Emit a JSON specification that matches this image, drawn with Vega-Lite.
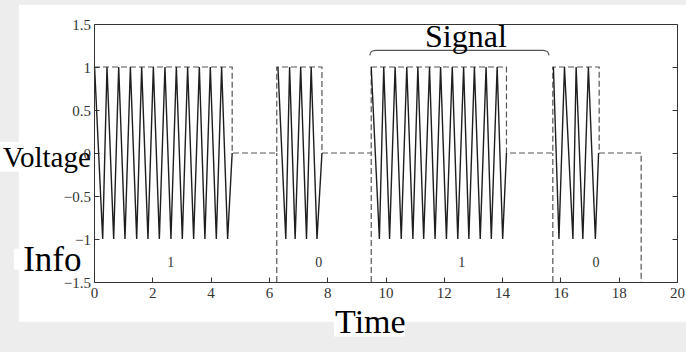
{
  "$schema": "https://vega.github.io/schema/vega-lite/v6.json",
  "width": 583,
  "height": 258,
  "autosize": {"type": "none"},
  "padding": {"left": 94, "top": 24, "right": 9, "bottom": 70},
  "background": "#ededed",
  "config": {
    "view": {"stroke": null},
    "axis": {
      "domainColor": "#333333",
      "tickColor": "#333333",
      "labelColor": "#333333",
      "labelFont": "Liberation Serif",
      "labelFontSize": 15,
      "tickSize": -5,
      "grid": false,
      "title": null
    },
    "text": {"font": "Liberation Serif"}
  },
  "datasets": {
    "signal": [
      {"burst": 1, "t": 0.02, "v": 1}, {"burst": 1, "t": 0.298, "v": -1}, {"burst": 1, "t": 0.446, "v": 1}, {"burst": 1, "t": 0.675, "v": -1},
      {"burst": 1, "t": 0.847, "v": 1}, {"burst": 1, "t": 1.063, "v": -1}, {"burst": 1, "t": 1.248, "v": 1}, {"burst": 1, "t": 1.464, "v": -1},
      {"burst": 1, "t": 1.635, "v": 1}, {"burst": 1, "t": 1.851, "v": -1}, {"burst": 1, "t": 2.036, "v": 1}, {"burst": 1, "t": 2.242, "v": -1},
      {"burst": 1, "t": 2.434, "v": 1}, {"burst": 1, "t": 2.64, "v": -1}, {"burst": 1, "t": 2.825, "v": 1}, {"burst": 1, "t": 3.03, "v": -1},
      {"burst": 1, "t": 3.212, "v": 1}, {"burst": 1, "t": 3.418, "v": -1}, {"burst": 1, "t": 3.613, "v": 1}, {"burst": 1, "t": 3.805, "v": -1},
      {"burst": 1, "t": 3.99, "v": 1}, {"burst": 1, "t": 4.196, "v": -1}, {"burst": 1, "t": 4.378, "v": 1}, {"burst": 1, "t": 4.584, "v": -1},
      {"burst": 1, "t": 4.74, "v": 0},
      {"burst": 2, "t": 6.31, "v": 1}, {"burst": 2, "t": 6.58, "v": -1}, {"burst": 2, "t": 6.71, "v": 1}, {"burst": 2, "t": 6.9, "v": -1},
      {"burst": 2, "t": 7.09, "v": 1}, {"burst": 2, "t": 7.29, "v": -1}, {"burst": 2, "t": 7.45, "v": 1}, {"burst": 2, "t": 7.65, "v": -1},
      {"burst": 2, "t": 7.82, "v": 0},
      {"burst": 3, "t": 9.51, "v": 1}, {"burst": 3, "t": 9.79, "v": -1}, {"burst": 3, "t": 9.94, "v": 1}, {"burst": 3, "t": 10.14, "v": -1},
      {"burst": 3, "t": 10.33, "v": 1}, {"burst": 3, "t": 10.54, "v": -1}, {"burst": 3, "t": 10.73, "v": 1}, {"burst": 3, "t": 10.94, "v": -1},
      {"burst": 3, "t": 11.11, "v": 1}, {"burst": 3, "t": 11.31, "v": -1}, {"burst": 3, "t": 11.51, "v": 1}, {"burst": 3, "t": 11.7, "v": -1},
      {"burst": 3, "t": 11.89, "v": 1}, {"burst": 3, "t": 12.09, "v": -1}, {"burst": 3, "t": 12.29, "v": 1}, {"burst": 3, "t": 12.48, "v": -1},
      {"burst": 3, "t": 12.68, "v": 1}, {"burst": 3, "t": 12.86, "v": -1}, {"burst": 3, "t": 13.05, "v": 1}, {"burst": 3, "t": 13.25, "v": -1},
      {"burst": 3, "t": 13.45, "v": 1}, {"burst": 3, "t": 13.63, "v": -1}, {"burst": 3, "t": 13.83, "v": 1}, {"burst": 3, "t": 14.02, "v": -1},
      {"burst": 3, "t": 14.15, "v": 0},
      {"burst": 4, "t": 15.76, "v": 1}, {"burst": 4, "t": 15.95, "v": -1}, {"burst": 4, "t": 16.14, "v": 1}, {"burst": 4, "t": 16.43, "v": -1},
      {"burst": 4, "t": 16.54, "v": 1}, {"burst": 4, "t": 16.77, "v": -1}, {"burst": 4, "t": 16.96, "v": 1}, {"burst": 4, "t": 17.2, "v": -1},
      {"burst": 4, "t": 17.31, "v": 0}
    ],
    "info": [
      {"k": 1, "t": 0, "v": 1}, {"k": 2, "t": 4.74, "v": 1}, {"k": 3, "t": 4.74, "v": 0}, {"k": 4, "t": 6.27, "v": 0},
      {"k": 5, "t": 6.27, "v": 1}, {"k": 6, "t": 7.82, "v": 1}, {"k": 7, "t": 7.82, "v": 0}, {"k": 8, "t": 9.51, "v": 0},
      {"k": 9, "t": 9.51, "v": 1}, {"k": 10, "t": 14.15, "v": 1}, {"k": 11, "t": 14.15, "v": 0}, {"k": 12, "t": 15.74, "v": 0},
      {"k": 13, "t": 15.74, "v": 1}, {"k": 14, "t": 17.33, "v": 1}, {"k": 15, "t": 17.33, "v": 0}, {"k": 16, "t": 18.77, "v": 0},
      {"k": 17, "t": 18.77, "v": -1.5}
    ],
    "bounds": [{"t": 6.27, "lo": -1.5, "hi": 0}, {"t": 9.51, "lo": -1.5, "hi": 0}, {"t": 15.74, "lo": -1.5, "hi": 0}],
    "bits": [
      {"t": 2.63, "v": -1.276, "bit": "1"},
      {"t": 7.71, "v": -1.276, "bit": "0"},
      {"t": 12.62, "v": -1.276, "bit": "1"},
      {"t": 17.22, "v": -1.276, "bit": "0"}
    ],
    "brace": [
      {"t": 9.46, "v": 1.135}, {"t": 9.49, "v": 1.165}, {"t": 9.56, "v": 1.186}, {"t": 9.66, "v": 1.193},
      {"t": 15.41, "v": 1.193}, {"t": 15.51, "v": 1.186}, {"t": 15.58, "v": 1.165}, {"t": 15.61, "v": 1.135}
    ]
  },
  "layer": [
    {
      "data": {"values": [{}]},
      "mark": {"type": "rect", "fill": "white"},
      "encoding": {
        "x": {"datum": -2.58, "type": "quantitative", "scale": {"domain": [0, 20], "nice": false, "zero": false}, "axis": null},
        "x2": {"datum": 20.4},
        "y": {"datum": 1.724, "type": "quantitative", "scale": {"domain": [-1.5, 1.5], "nice": false, "zero": false}, "axis": null},
        "y2": {"datum": -1.962}
      }
    },
    {
      "data": {"values": [{}]},
      "mark": {"type": "rect", "fill": "white"},
      "encoding": {
        "x": {"datum": -3.24, "type": "quantitative", "scale": {"domain": [0, 20], "nice": false, "zero": false}, "axis": null},
        "x2": {"datum": -2.2},
        "y": {"datum": 0.131, "type": "quantitative", "scale": {"domain": [-1.5, 1.5], "nice": false, "zero": false}, "axis": null},
        "y2": {"datum": -0.217}
      }
    },
    {
      "data": {"values": [{}]},
      "mark": {"type": "rect", "fill": "white"},
      "encoding": {
        "x": {"datum": -2.75, "type": "quantitative", "scale": {"domain": [0, 20], "nice": false, "zero": false}, "axis": null},
        "x2": {"datum": -2.3},
        "y": {"datum": -1.113, "type": "quantitative", "scale": {"domain": [-1.5, 1.5], "nice": false, "zero": false}, "axis": null},
        "y2": {"datum": -1.357}
      }
    },
    {
      "data": {"values": [{}]},
      "mark": {"type": "rect", "fill": "white"},
      "encoding": {
        "x": {"datum": 8.23, "type": "quantitative", "scale": {"domain": [0, 20], "nice": false, "zero": false}, "axis": null},
        "x2": {"datum": 10.67},
        "y": {"datum": -1.88, "type": "quantitative", "scale": {"domain": [-1.5, 1.5], "nice": false, "zero": false}, "axis": null},
        "y2": {"datum": -2.133}
      }
    },
    {
      "data": {"name": "bounds"},
      "mark": {"type": "rule", "color": "#555555", "strokeWidth": 1.2, "strokeDash": [6, 3]},
      "encoding": {
        "x": {"field": "t", "type": "quantitative", "scale": {"domain": [0, 20], "nice": false, "zero": false}, "axis": null},
        "y": {"field": "lo", "type": "quantitative", "scale": {"domain": [-1.5, 1.5], "nice": false, "zero": false}, "axis": null},
        "y2": {"field": "hi"}
      }
    },
    {
      "data": {"name": "info"},
      "mark": {"type": "line", "color": "#555555", "strokeWidth": 1.2, "strokeDash": [6, 3]},
      "encoding": {
        "x": {"field": "t", "type": "quantitative", "scale": {"domain": [0, 20], "nice": false, "zero": false},
              "axis": {"orient": "top", "labels": false, "ticks": false, "domain": true, "zindex": 1}},
        "y": {"field": "v", "type": "quantitative", "scale": {"domain": [-1.5, 1.5], "nice": false, "zero": false},
              "axis": {"orient": "right", "labels": false, "values": [-1.5, -1, -0.5, 0, 0.5, 1, 1.5], "zindex": 1}},
        "order": {"field": "k"}
      }
    },
    {
      "data": {"name": "signal"},
      "mark": {"type": "line", "color": "#1e1e1e", "strokeWidth": 1.4},
      "encoding": {
        "x": {"field": "t", "type": "quantitative", "scale": {"domain": [0, 20], "nice": false, "zero": false},
              "axis": {"orient": "bottom", "values": [0, 2, 4, 6, 8, 10, 12, 14, 16, 18, 20], "labelPadding": 8, "labelFlush": false, "zindex": 1}},
        "y": {"field": "v", "type": "quantitative", "scale": {"domain": [-1.5, 1.5], "nice": false, "zero": false},
              "axis": {"orient": "left", "values": [-1.5, -1, -0.5, 0, 0.5, 1, 1.5], "format": "~g", "labelPadding": 8.5, "zindex": 1}},
        "detail": {"field": "burst"},
        "order": {"field": "t"}
      }
    },
    {
      "data": {"name": "bits"},
      "mark": {"type": "text", "fontSize": 14, "color": "#333333", "baseline": "middle", "align": "center"},
      "encoding": {
        "x": {"field": "t", "type": "quantitative", "scale": {"domain": [0, 20], "nice": false, "zero": false}, "axis": null},
        "y": {"field": "v", "type": "quantitative", "scale": {"domain": [-1.5, 1.5], "nice": false, "zero": false}, "axis": null},
        "text": {"field": "bit"}
      }
    },
    {
      "data": {"name": "brace"},
      "mark": {"type": "line", "color": "#555555", "strokeWidth": 1.2, "interpolate": "monotone"},
      "encoding": {
        "x": {"field": "t", "type": "quantitative", "scale": {"domain": [0, 20], "nice": false, "zero": false}, "axis": null},
        "y": {"field": "v", "type": "quantitative", "scale": {"domain": [-1.5, 1.5], "nice": false, "zero": false}, "axis": null}
      }
    },
    {
      "data": {"values": [{}]},
      "mark": {"type": "text", "text": "Signal", "fontSize": 32, "color": "black", "baseline": "alphabetic", "align": "center"},
      "encoding": {
        "x": {"datum": 12.76, "type": "quantitative", "scale": {"domain": [0, 20], "nice": false, "zero": false}, "axis": null},
        "y": {"datum": 1.233, "type": "quantitative", "scale": {"domain": [-1.5, 1.5], "nice": false, "zero": false}, "axis": null}
      }
    },
    {
      "data": {"values": [{}]},
      "mark": {"type": "text", "text": "Voltage", "fontSize": 29, "color": "black", "baseline": "alphabetic", "align": "center"},
      "encoding": {
        "x": {"datum": -1.62, "type": "quantitative", "scale": {"domain": [0, 20], "nice": false, "zero": false}, "axis": null},
        "y": {"datum": -0.165, "type": "quantitative", "scale": {"domain": [-1.5, 1.5], "nice": false, "zero": false}, "axis": null}
      }
    },
    {
      "data": {"values": [{}]},
      "mark": {"type": "text", "text": "Info", "fontSize": 35, "color": "black", "baseline": "alphabetic", "align": "center"},
      "encoding": {
        "x": {"datum": -1.43, "type": "quantitative", "scale": {"domain": [0, 20], "nice": false, "zero": false}, "axis": null},
        "y": {"datum": -1.377, "type": "quantitative", "scale": {"domain": [-1.5, 1.5], "nice": false, "zero": false}, "axis": null}
      }
    },
    {
      "data": {"values": [{}]},
      "mark": {"type": "text", "text": "Time", "fontSize": 34, "color": "black", "baseline": "alphabetic", "align": "center"},
      "encoding": {
        "x": {"datum": 9.48, "type": "quantitative", "scale": {"domain": [0, 20], "nice": false, "zero": false}, "axis": null},
        "y": {"datum": -2.093, "type": "quantitative", "scale": {"domain": [-1.5, 1.5], "nice": false, "zero": false}, "axis": null}
      }
    }
  ],
  "resolve": {"axis": {"x": "independent", "y": "independent"}}
}
